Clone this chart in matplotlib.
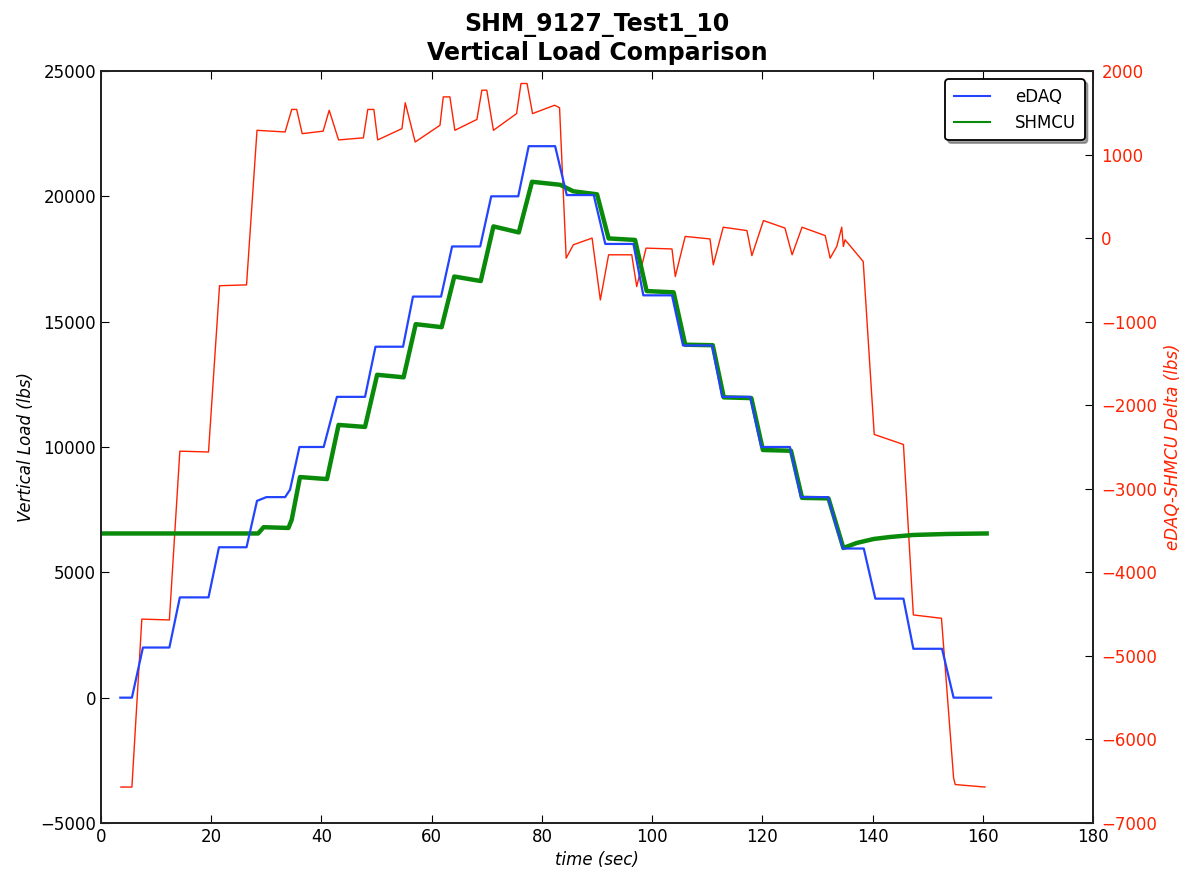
import matplotlib
matplotlib.use("Agg")
import matplotlib.pyplot as plt

# eDAQ vertical load (lbs) vs time (sec)
edaq_t = [3.5, 5.6, 7.6, 12.4, 14.3, 19.5, 21.4, 26.4, 28.3, 30.0, 33.4, 34.3,
          36.0, 40.4, 42.8, 47.9, 49.8, 54.8, 56.6, 61.7, 63.7, 68.8, 70.8, 75.7,
          77.6, 82.4, 84.5, 89.4, 91.5, 96.6, 98.4, 103.6, 105.6, 110.9, 112.7,
          117.8, 119.8, 125.0, 127.0, 131.9, 134.6, 138.4, 140.5, 145.6, 147.4,
          152.6, 154.7, 161.5]
edaq_v = [0, 0, 2000, 2000, 4000, 4000, 6000, 6000, 7850, 8000, 8000, 8300,
          10000, 10000, 12000, 12000, 14000, 14000, 16000, 16000, 18000, 18000,
          20000, 20000, 22000, 22000, 20050, 20050, 18100, 18100, 16050, 16050,
          14050, 14050, 12000, 12000, 10000, 10000, 8000, 8000, 5950, 5950,
          3950, 3950, 1950, 1950, 0, 0]

# SHMCU vertical load (lbs) vs time (sec)
shmcu_t = [0, 28.5, 29.5, 34.0, 34.6, 36.1, 41.0, 43.1, 47.9, 50.1, 54.9, 57.1,
           61.8, 64.1, 68.9, 71.2, 75.8, 78.2, 83.3, 85.7, 90.0, 92.1, 96.9,
           99.0, 103.9, 106.0, 111.0, 113.0, 118.0, 120.1, 125.2, 127.2, 132.0,
           134.7, 137.1, 140.2, 143.2, 147.4, 153.5, 160.7]
shmcu_v = [6550, 6550, 6800, 6770, 7100, 8800, 8720, 10880, 10800, 12880, 12780,
           14900, 14780, 16800, 16620, 18800, 18560, 20580, 20460, 20200, 20080,
           18320, 18260, 16220, 16170, 14080, 14060, 11980, 11950, 9880, 9850,
           7970, 7950, 5970, 6170, 6330, 6410, 6490, 6530, 6550]

# eDAQ-SHMCU delta (lbs) vs time (sec)
delta_t = [3.6, 5.6, 7.4, 12.4, 14.3, 19.5, 21.5, 26.4, 28.3, 33.4, 34.6, 35.5,
           36.5, 40.3, 41.4, 43.1, 47.6, 48.4, 49.5, 50.2, 54.6, 55.2, 57.0,
           61.5, 62.1, 63.3, 64.2, 68.2, 69.1, 70.0, 71.2, 75.4, 76.2, 77.3,
           78.3, 82.3, 83.2, 84.4, 85.7, 89.1, 90.6, 92.1, 96.3, 97.2, 98.9,
           103.6, 104.2, 106.0, 110.5, 111.1, 112.9, 117.2, 118.1, 120.2, 124.1,
           125.4, 127.2, 131.4, 132.3, 133.5, 134.4, 134.7, 135.0, 138.3, 140.3,
           145.6, 147.4, 152.5, 154.7, 155.0, 160.4]
delta_v = [-6570, -6570, -4560, -4570, -2550, -2560, -570, -560, 1290, 1270,
           1540, 1540, 1250, 1280, 1530, 1175, 1200, 1540, 1540, 1175, 1310,
           1620, 1150, 1350, 1690, 1690, 1290, 1420, 1770, 1770, 1290, 1490,
           1850, 1850, 1490, 1590, 1560, -240, -80, 0, -740, -200, -200, -580,
           -120, -130, -460, 20, -10, -320, 130, 90, -210, 210, 120, -200, 130,
           30, -240, -100, 130, -100, -20, -280, -2350, -2470, -4510, -4550,
           -6460, -6540, -6570]

RED = "#ff2200"

plt.rc("font", **{"size": 12})

fig = plt.figure(figsize=(11.86, 8.72), dpi=100)
ax1 = fig.add_axes([0.0852, 0.0562, 0.8364, 0.8624])
ax2 = ax1.twinx()

ax1.plot(edaq_t, edaq_v, c="#2244ff", lw=1.6, label="eDAQ", zorder=3)
ax1.plot(shmcu_t, shmcu_v, c="#0a8a0a", lw=3.2, label="SHMCU", zorder=2)
ax2.plot(delta_t, delta_v, c=RED, lw=1.0)
ax1.set_zorder(ax2.get_zorder() + 1)
ax1.patch.set_visible(False)

ax1.set_xlim(0, 180)
ax1.set_ylim(-5000, 25000)
ax2.set_ylim(-7000, 2000)

ax1.set_xlabel("time (sec)", style="italic")
ax1.set_ylabel("Vertical Load (lbs)", style="italic")
ax2.set_ylabel("eDAQ-SHMCU Delta (lbs)", style="italic", color=RED, labelpad=5)

ax1.tick_params(direction="in", length=6, top=True, right=False)
ax2.tick_params(direction="in", length=6, labelcolor=RED, pad=6)
for ax in (ax1, ax2):
    for s in ax.spines.values():
        s.set_linewidth(1.3)
        s.set_color("#222222")

ax1.set_title("SHM_9127_Test1_10\nVertical Load Comparison",
              fontsize=17, fontweight="bold", pad=8, linespacing=1.2)

leg = ax1.legend(loc="upper right", shadow=True, fancybox=True, fontsize=12,
                 borderpad=0.5, handlelength=2.2, handletextpad=1.5)
leg.get_frame().set_edgecolor("black")
leg.get_frame().set_linewidth(1.3)
for line in leg.get_lines():
    line.set_linewidth(1.5)

plt.savefig("out.png", dpi=100)
